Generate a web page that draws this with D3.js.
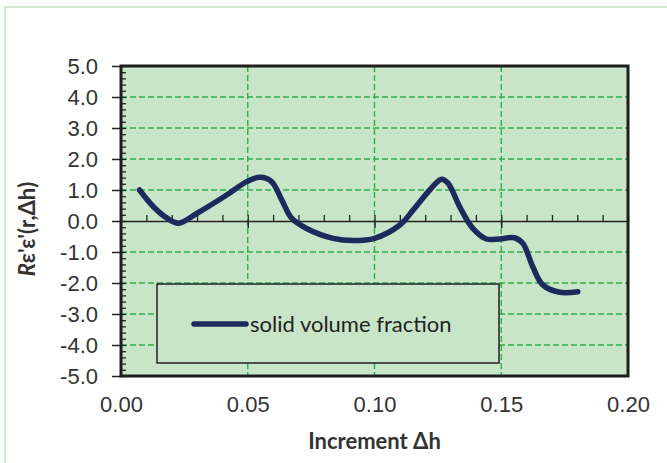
<!DOCTYPE html>
<html>
<head>
<meta charset="utf-8">
<script src="https://d3js.org/d3.v7.min.js"></script>
<style>
  body { margin: 0; background: #fff; }
  svg { display: block; font-family: Lato, "Open Sans", sans-serif; }
</style>
</head>
<body>
<svg id="chart" width="667" height="463"></svg>
<script>
// values
var inc_h = [0.0073, 0.0128, 0.0180, 0.0227, 0.0300, 0.0417, 0.0496, 0.0548, 0.0594, 0.0634,
             0.0673, 0.0732, 0.0837, 0.0916, 0.1000, 0.1100, 0.1152, 0.1218, 0.1264, 0.1290,
             0.1336, 0.1388, 0.1441, 0.1493, 0.1552, 0.1585, 0.1624, 0.1664, 0.1730, 0.1802];
var corr = [1.00, 0.46, 0.10, -0.07, 0.25, 0.84, 1.27, 1.41, 1.27, 0.68,
            0.09, -0.24, -0.56, -0.63, -0.56, -0.13, 0.35, 1.00, 1.35, 1.22,
            0.46, -0.24, -0.58, -0.58, -0.54, -0.72, -1.47, -2.06, -2.30, -2.28];
var x_ticks = [0, 0.05, 0.10, 0.15, 0.20];
var y_ticks = [-5, -4, -3, -2, -1, 0, 1, 2, 3, 4, 5];
var series_name = "solid volume fraction";

var margin = {top: 66, right: 39, bottom: 87, left: 121};
var width = 667, height = 463;
var svg = d3.select("#chart");

var data = inc_h.map(function(d, i){ return {x: d, y: corr[i]}; });

var xscale = d3.scaleLinear().domain([0, 0.2]).range([margin.left, width - margin.right]);
var yscale = d3.scaleLinear().domain([-5, 5]).range([height - margin.bottom, margin.top]);

// outer chart frame (light green)
svg.append("rect")
    .attr("x", 5).attr("y", 7)
    .attr("width", 800).attr("height", 600)
    .attr("fill", "none")
    .attr("stroke", "#d3e9d3")
    .attr("stroke-width", 2);

// plot background
svg.append("rect")
    .attr("x", xscale(0)).attr("y", yscale(5))
    .attr("width", xscale(0.2) - xscale(0))
    .attr("height", yscale(-5) - yscale(5))
    .attr("fill", "#c9e5c8");

// dashed grid
var grid = svg.append("g")
    .attr("stroke", "#2fae4a")
    .attr("stroke-width", 1.4)
    .attr("stroke-dasharray", "6,3");
grid.selectAll("line.h")
    .data(y_ticks.filter(d => d != 0 && Math.abs(d) != 5))
    .enter().append("line")
    .attr("x1", xscale(0)).attr("x2", xscale(0.2))
    .attr("y1", d => yscale(d)).attr("y2", d => yscale(d));
grid.selectAll("line.v")
    .data(x_ticks.slice(1, -1))
    .enter().append("line")
    .attr("x1", d => xscale(d)).attr("x2", d => xscale(d))
    .attr("y1", yscale(5)).attr("y2", yscale(-5));

// x axis crossing at zero, minor ticks every 0.01
svg.append("g")
    .attr("transform", `translate(0, ${yscale(0)})`)
    .call(d3.axisTop(xscale).tickValues(d3.range(1, 20).map(d => d / 100)).tickSize(6).tickFormat(""))
    .call(g => g.select(".domain").attr("stroke", "#222").attr("stroke-width", 1.5))
    .call(g => g.selectAll(".tick line").attr("stroke", "#222").attr("stroke-width", 1.3));
svg.append("g")
    .attr("transform", `translate(0, ${yscale(0)})`)
    .call(d3.axisBottom(xscale).tickValues([0.05, 0.10, 0.15]).tickSize(7).tickFormat(""))
    .call(g => g.select(".domain").remove())
    .call(g => g.selectAll(".tick line").attr("stroke", "#222").attr("stroke-width", 1.5));

// y minor ticks inside, every 0.2
svg.append("g")
    .attr("transform", `translate(${xscale(0)}, 0)`)
    .call(d3.axisRight(yscale).tickValues(d3.range(-25, 26).map(d => d / 5)).tickSize(5).tickFormat(""))
    .call(g => g.select(".domain").remove())
    .call(g => g.selectAll(".tick line").attr("stroke", "#222").attr("stroke-width", 1.3));

// y major ticks + labels
svg.append("g")
    .attr("transform", `translate(${xscale(0)}, 0)`)
    .call(d3.axisLeft(yscale).tickValues(y_ticks).tickSize(9).tickPadding(14).tickFormat(d3.format(".1f")))
    .call(g => g.select(".domain").remove())
    .call(g => g.selectAll(".tick line").attr("stroke", "#222").attr("stroke-width", 1.5))
    .call(g => g.selectAll(".tick text")
        .attr("fill", "#333").style("font-size", "22px")
        .text(d => d3.format(".1f")(d).replace("−", "-")));

// x labels (below plot)
svg.append("g")
    .attr("transform", `translate(0, ${yscale(-5)})`)
    .call(d3.axisBottom(xscale).tickValues(x_ticks).tickSize(0).tickPadding(20).tickFormat(d3.format(".2f")))
    .call(g => g.select(".domain").remove())
    .call(g => g.selectAll(".tick text").attr("fill", "#333").style("font-size", "22px"));

// plot frame
svg.append("rect")
    .attr("x", xscale(0)).attr("y", yscale(5))
    .attr("width", xscale(0.2) - xscale(0))
    .attr("height", yscale(-5) - yscale(5))
    .attr("fill", "none")
    .attr("stroke", "#1e1e1e")
    .attr("stroke-width", 3);

// legend box (opaque, hides the grid behind it)
svg.append("rect")
    .attr("x", 157).attr("y", 284)
    .attr("width", 342).attr("height", 79)
    .attr("fill", "#c9e5c8")
    .attr("stroke", "#222")
    .attr("stroke-width", 1.5);
svg.append("line")
    .attr("x1", 194).attr("x2", 246)
    .attr("y1", 324).attr("y2", 324)
    .attr("stroke", "#1d2a5e").attr("stroke-width", 5.5).attr("stroke-linecap", "round");
svg.append("text")
    .attr("x", 250).attr("y", 332)
    .attr("fill", "#222")
    .style("font-size", "22px")
    .text(series_name);

// the curve
var line = d3.line()
    .x(d => xscale(d.x))
    .y(d => yscale(d.y))
    .curve(d3.curveCatmullRom.alpha(0.5));
svg.append("path")
    .datum(data)
    .attr("d", line)
    .attr("fill", "none")
    .attr("stroke", "#1d2a5e")
    .attr("stroke-width", 5.5)
    .attr("stroke-linecap", "round")
    .attr("stroke-linejoin", "round");

// axis titles
svg.append("text")
    .attr("x", (xscale(0) + xscale(0.2)) / 2).attr("y", 449)
    .attr("text-anchor", "middle")
    .attr("fill", "#333")
    .style("font-size", "22px").style("font-weight", "bold")
    .text("Increment Δh");

var ytitle = svg.append("text")
    .attr("transform", "translate(35, 229) rotate(-90)")
    .attr("text-anchor", "middle")
    .attr("fill", "#333")
    .style("font-size", "22px").style("font-weight", "bold");
ytitle.append("tspan").style("font-style", "italic").text("R");
ytitle.append("tspan").text("ε'ε'(r,Δh)");
</script>
</body>
</html>
